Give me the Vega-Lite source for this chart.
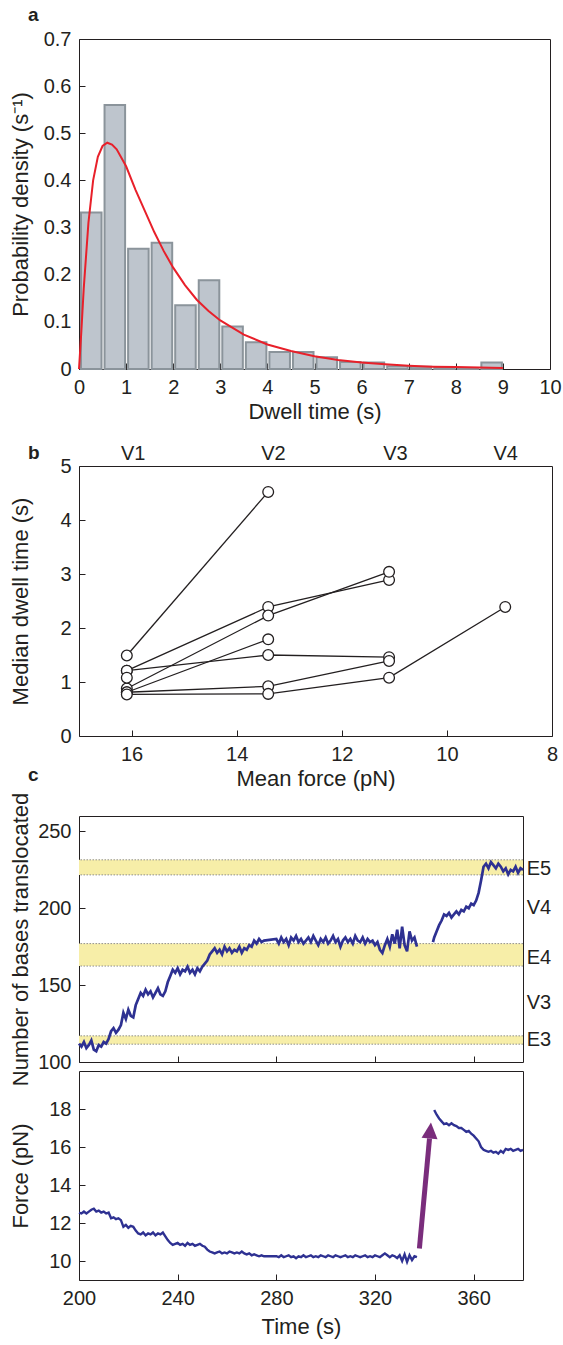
{
"$schema": "https://vega.github.io/schema/vega-lite/v6.json",
"padding": {"left": 8, "top": 5, "right": 2, "bottom": 2},
"config": {
 "font": "Liberation Sans",
 "view": {"stroke": "#231f20", "strokeWidth": 1},
 "axis": {"domain": false, "grid": false, "tickColor": "#231f20", "tickSize": -6, "tickWidth": 1, "labelFontSize": 20, "titleFontSize": 22, "labelColor": "#231f20", "titleColor": "#231f20", "titleFontWeight": "normal", "labelFlush": false, "labelOverlap": false},
 "axisX": {"labelPadding": 14, "titlePadding": 4},
 "axisY": {"labelPadding": 14, "titleX": -59, "titleBaseline": "middle"},
 "title": {"fontSize": 19, "fontWeight": "bold", "anchor": "start", "frame": "group", "color": "#231f20", "baseline": "alphabetic"}
},
"datasets": {
 "hist": [
  {"start":0,"end":0.5,"density":0.332},{"start":0.5,"end":1,"density":0.56},{"start":1,"end":1.5,"density":0.255},{"start":1.5,"end":2,"density":0.268},
  {"start":2,"end":2.5,"density":0.135},{"start":2.5,"end":3,"density":0.188},{"start":3,"end":3.5,"density":0.09},{"start":3.5,"end":4,"density":0.057},
  {"start":4,"end":4.5,"density":0.036},{"start":4.5,"end":5,"density":0.036},{"start":5,"end":5.5,"density":0.025},{"start":5.5,"end":6,"density":0.015},
  {"start":6,"end":6.5,"density":0.014},{"start":6.5,"end":7,"density":0.006},{"start":7,"end":7.5,"density":0.005},{"start":7.5,"end":8,"density":0.003},
  {"start":8,"end":8.5,"density":0.002},{"start":8.5,"end":9,"density":0.014}
 ],
 "fit": [
  {"t":0,"p":0},{"t":0.05,"p":0.08},{"t":0.1,"p":0.17},{"t":0.2,"p":0.31},{"t":0.3,"p":0.40},{"t":0.4,"p":0.45},{"t":0.5,"p":0.473},{"t":0.6,"p":0.48},
  {"t":0.7,"p":0.476},{"t":0.8,"p":0.466},{"t":1.0,"p":0.43},{"t":1.2,"p":0.38},{"t":1.4,"p":0.335},{"t":1.6,"p":0.29},{"t":1.8,"p":0.25},{"t":2.0,"p":0.215},
  {"t":2.25,"p":0.178},{"t":2.5,"p":0.147},{"t":2.75,"p":0.123},{"t":3.0,"p":0.103},{"t":3.5,"p":0.073},{"t":4.0,"p":0.052},{"t":4.5,"p":0.038},{"t":5.0,"p":0.027},
  {"t":5.5,"p":0.019},{"t":6.0,"p":0.014},{"t":6.5,"p":0.01},{"t":7.0,"p":0.007},{"t":7.5,"p":0.005},{"t":8.0,"p":0.004},{"t":8.5,"p":0.003},{"t":9.0,"p":0.002}
 ],
 "median": [
  {"series":"S1","force":16.09,"dwell":1.49},{"series":"S1","force":13.4,"dwell":4.52},
  {"series":"S2","force":16.09,"dwell":1.21},{"series":"S2","force":13.4,"dwell":2.39},{"series":"S2","force":11.1,"dwell":2.89},
  {"series":"S3","force":16.09,"dwell":0.88},{"series":"S3","force":13.4,"dwell":2.23},{"series":"S3","force":11.1,"dwell":3.04},
  {"series":"S4","force":16.09,"dwell":0.81},{"series":"S4","force":13.4,"dwell":1.79},
  {"series":"S5","force":16.09,"dwell":1.21},{"series":"S5","force":13.4,"dwell":1.5},{"series":"S5","force":11.1,"dwell":1.46},
  {"series":"S6","force":16.09,"dwell":0.81},{"series":"S6","force":13.4,"dwell":0.92},{"series":"S6","force":11.1,"dwell":1.39},
  {"series":"S7","force":16.09,"dwell":0.77},{"series":"S7","force":13.4,"dwell":0.78},{"series":"S7","force":11.1,"dwell":1.08},{"series":"S7","force":8.89,"dwell":2.39},
  {"series":"S8","force":16.09,"dwell":1.08}
 ],
 "vlabels": [{"force":15.97,"label":"V1"},{"force":13.3,"label":"V2"},{"force":10.98,"label":"V3"},{"force":8.88,"label":"V4"}],
 "bands": [{"name":"E5","lo":221.7,"hi":231.5},{"name":"E4","lo":162.4,"hi":177},{"name":"E3","lo":111.6,"hi":117}],
 "elabels": [{"label":"E5","y":225.8},{"label":"V4","y":200.4},{"label":"E4","y":167.9},{"label":"V3","y":138.4},{"label":"E3","y":114}],
 "bases": [
  {"t":200,"b":112,"s":1},{"t":201,"b":110,"s":1},{"t":202,"b":113,"s":1},{"t":203,"b":109,"s":1},{"t":204,"b":111,"s":1},{"t":205,"b":114,"s":1},{"t":206,"b":108,"s":1},{"t":207,"b":107,"s":1},{"t":208,"b":111,"s":1},{"t":209,"b":110,"s":1},{"t":210,"b":113,"s":1},{"t":211,"b":112,"s":1},{"t":212,"b":115,"s":1},
  {"t":213,"b":120,"s":1},{"t":214,"b":122,"s":1},{"t":215,"b":119,"s":1},{"t":216,"b":121,"s":1},{"t":217,"b":124,"s":1},
  {"t":218,"b":132,"s":1},{"t":219,"b":128,"s":1},{"t":220,"b":134,"s":1},{"t":221,"b":130,"s":1},{"t":222,"b":129,"s":1},
  {"t":223,"b":137,"s":1},{"t":224,"b":141,"s":1},{"t":225,"b":145,"s":1},{"t":226,"b":143,"s":1},{"t":227,"b":147,"s":1},{"t":228,"b":144,"s":1},{"t":229,"b":146,"s":1},{"t":230,"b":142,"s":1},{"t":231,"b":145,"s":1},{"t":232,"b":148,"s":1},{"t":233,"b":144,"s":1},{"t":234,"b":143,"s":1},{"t":235,"b":146,"s":1},
  {"t":236,"b":152,"s":1},{"t":237,"b":156,"s":1},{"t":238,"b":160,"s":1},{"t":239,"b":158,"s":1},{"t":240,"b":161,"s":1},{"t":241,"b":157,"s":1},{"t":242,"b":160,"s":1},{"t":243,"b":159,"s":1},{"t":244,"b":162,"s":1},{"t":245,"b":158,"s":1},{"t":246,"b":160,"s":1},{"t":247,"b":157,"s":1},{"t":248,"b":161,"s":1},{"t":249,"b":159,"s":1},{"t":250,"b":162,"s":1},{"t":251,"b":164,"s":1},
  {"t":252,"b":166,"s":1},{"t":253,"b":170,"s":1},{"t":254,"b":172,"s":1},{"t":255,"b":174,"s":1},{"t":256,"b":171,"s":1},{"t":257,"b":173,"s":1},{"t":258,"b":170,"s":1},{"t":259,"b":175,"s":1},{"t":260,"b":172,"s":1},{"t":261,"b":174,"s":1},{"t":262,"b":171,"s":1},{"t":263,"b":173,"s":1},{"t":264,"b":172,"s":1},{"t":265,"b":175,"s":1},{"t":266,"b":171,"s":1},{"t":267,"b":174,"s":1},{"t":268,"b":173,"s":1},{"t":269,"b":176,"s":1},{"t":270,"b":175,"s":1},{"t":271,"b":179,"s":1},{"t":272,"b":177,"s":1},{"t":273,"b":180,"s":1},{"t":274,"b":178,"s":1},{"t":275,"b":179,"s":1},
  {"t":280,"b":180,"s":1},{"t":281,"b":177,"s":1},{"t":282,"b":181,"s":1},{"t":283,"b":178,"s":1},{"t":284,"b":180,"s":1},{"t":285,"b":176,"s":1},{"t":286,"b":181,"s":1},{"t":287,"b":179,"s":1},{"t":288,"b":182,"s":1},{"t":289,"b":178,"s":1},{"t":290,"b":180,"s":1},{"t":291,"b":177,"s":1},{"t":292,"b":179,"s":1},{"t":293,"b":181,"s":1},{"t":294,"b":178,"s":1},{"t":295,"b":182,"s":1},{"t":296,"b":179,"s":1},{"t":297,"b":176,"s":1},{"t":298,"b":180,"s":1},{"t":299,"b":178,"s":1},{"t":300,"b":181,"s":1},{"t":301,"b":177,"s":1},{"t":302,"b":179,"s":1},{"t":303,"b":182,"s":1},{"t":304,"b":178,"s":1},{"t":305,"b":180,"s":1},{"t":306,"b":175,"s":1},{"t":307,"b":179,"s":1},{"t":308,"b":181,"s":1},{"t":309,"b":178,"s":1},{"t":310,"b":180,"s":1},{"t":311,"b":177,"s":1},{"t":312,"b":182,"s":1},{"t":313,"b":179,"s":1},{"t":314,"b":178,"s":1},{"t":315,"b":181,"s":1},{"t":316,"b":177,"s":1},{"t":317,"b":180,"s":1},{"t":318,"b":178,"s":1},{"t":319,"b":179,"s":1},{"t":320,"b":176,"s":1},{"t":321,"b":178,"s":1},{"t":322,"b":173,"s":1},{"t":323,"b":171,"s":1},{"t":324,"b":176,"s":1},{"t":325,"b":180,"s":1},{"t":326,"b":175,"s":1},{"t":327,"b":183,"s":1},{"t":328,"b":177,"s":1},{"t":329,"b":186,"s":1},{"t":330,"b":174,"s":1},{"t":331,"b":188,"s":1},{"t":332,"b":176,"s":1},{"t":333,"b":172,"s":1},{"t":334,"b":185,"s":1},{"t":335,"b":179,"s":1},{"t":336,"b":181,"s":1},{"t":337,"b":175,"s":1},
  {"t":343.5,"b":178,"s":2},{"t":344,"b":181,"s":2},{"t":345,"b":185,"s":2},{"t":346,"b":189,"s":2},{"t":347,"b":192,"s":2},{"t":348,"b":196,"s":2},{"t":349,"b":195,"s":2},{"t":350,"b":197,"s":2},{"t":351,"b":194,"s":2},{"t":352,"b":196,"s":2},{"t":353,"b":198,"s":2},{"t":354,"b":196,"s":2},{"t":355,"b":199,"s":2},{"t":356,"b":198,"s":2},{"t":357,"b":201,"s":2},{"t":358,"b":200,"s":2},{"t":359,"b":203,"s":2},{"t":360,"b":202,"s":2},{"t":361,"b":205,"s":2},{"t":362,"b":210,"s":2},{"t":363,"b":218,"s":2},{"t":364,"b":227,"s":2},{"t":365,"b":229,"s":2},{"t":366,"b":226,"s":2},{"t":367,"b":230,"s":2},{"t":368,"b":228,"s":2},{"t":369,"b":226,"s":2},{"t":370,"b":229,"s":2},{"t":371,"b":227,"s":2},{"t":372,"b":224,"s":2},{"t":373,"b":226,"s":2},{"t":374,"b":222,"s":2},{"t":375,"b":225,"s":2},{"t":376,"b":224,"s":2},{"t":377,"b":227,"s":2},{"t":378,"b":223,"s":2},{"t":379,"b":226,"s":2},{"t":380,"b":225,"s":2}
 ],
 "force": [
  {"t":200,"f":12.55,"s":1},{"t":201,"f":12.5,"s":1},{"t":202,"f":12.6,"s":1},{"t":203,"f":12.5,"s":1},{"t":204,"f":12.6,"s":1},{"t":205,"f":12.7,"s":1},{"t":206,"f":12.75,"s":1},{"t":207,"f":12.6,"s":1},{"t":208,"f":12.65,"s":1},{"t":209,"f":12.55,"s":1},{"t":210,"f":12.6,"s":1},{"t":211,"f":12.5,"s":1},{"t":212,"f":12.55,"s":1},
  {"t":213,"f":12.25,"s":1},{"t":214,"f":12.3,"s":1},{"t":215,"f":12.2,"s":1},{"t":216,"f":12.25,"s":1},{"t":217,"f":12.15,"s":1},
  {"t":218,"f":11.8,"s":1},{"t":219,"f":11.9,"s":1},{"t":220,"f":11.75,"s":1},{"t":221,"f":11.85,"s":1},{"t":222,"f":11.8,"s":1},{"t":223,"f":11.6,"s":1},
  {"t":224,"f":11.45,"s":1},{"t":225,"f":11.4,"s":1},{"t":226,"f":11.5,"s":1},{"t":227,"f":11.35,"s":1},{"t":228,"f":11.45,"s":1},{"t":229,"f":11.4,"s":1},{"t":230,"f":11.5,"s":1},{"t":231,"f":11.35,"s":1},{"t":232,"f":11.45,"s":1},{"t":233,"f":11.4,"s":1},{"t":234,"f":11.5,"s":1},{"t":235,"f":11.3,"s":1},
  {"t":236,"f":11.1,"s":1},{"t":237,"f":10.95,"s":1},{"t":238,"f":10.85,"s":1},{"t":239,"f":10.9,"s":1},{"t":240,"f":10.95,"s":1},{"t":241,"f":10.85,"s":1},{"t":242,"f":10.9,"s":1},{"t":243,"f":10.8,"s":1},{"t":244,"f":10.95,"s":1},{"t":245,"f":10.85,"s":1},{"t":246,"f":10.9,"s":1},{"t":247,"f":10.8,"s":1},{"t":248,"f":10.85,"s":1},{"t":249,"f":10.9,"s":1},{"t":250,"f":10.8,"s":1},{"t":251,"f":10.75,"s":1},
  {"t":252,"f":10.6,"s":1},{"t":253,"f":10.5,"s":1},{"t":254,"f":10.45,"s":1},{"t":255,"f":10.4,"s":1},{"t":256,"f":10.45,"s":1},{"t":257,"f":10.5,"s":1},{"t":258,"f":10.4,"s":1},{"t":259,"f":10.45,"s":1},{"t":260,"f":10.4,"s":1},{"t":261,"f":10.5,"s":1},{"t":262,"f":10.45,"s":1},{"t":263,"f":10.4,"s":1},{"t":264,"f":10.45,"s":1},{"t":265,"f":10.4,"s":1},{"t":266,"f":10.5,"s":1},{"t":267,"f":10.4,"s":1},{"t":268,"f":10.35,"s":1},{"t":269,"f":10.4,"s":1},{"t":270,"f":10.3,"s":1},{"t":271,"f":10.35,"s":1},{"t":272,"f":10.3,"s":1},{"t":273,"f":10.25,"s":1},{"t":274,"f":10.3,"s":1},{"t":275,"f":10.25,"s":1},
  {"t":280,"f":10.25,"s":1},{"t":281,"f":10.2,"s":1},{"t":282,"f":10.3,"s":1},{"t":283,"f":10.2,"s":1},{"t":284,"f":10.25,"s":1},{"t":285,"f":10.3,"s":1},{"t":286,"f":10.2,"s":1},{"t":287,"f":10.25,"s":1},{"t":288,"f":10.15,"s":1},{"t":289,"f":10.25,"s":1},{"t":290,"f":10.2,"s":1},{"t":291,"f":10.3,"s":1},{"t":292,"f":10.2,"s":1},{"t":293,"f":10.25,"s":1},{"t":294,"f":10.3,"s":1},{"t":295,"f":10.2,"s":1},{"t":296,"f":10.25,"s":1},{"t":297,"f":10.2,"s":1},{"t":298,"f":10.3,"s":1},{"t":299,"f":10.25,"s":1},{"t":300,"f":10.2,"s":1},{"t":301,"f":10.3,"s":1},{"t":302,"f":10.25,"s":1},{"t":303,"f":10.2,"s":1},{"t":304,"f":10.3,"s":1},{"t":305,"f":10.25,"s":1},{"t":306,"f":10.2,"s":1},{"t":307,"f":10.25,"s":1},{"t":308,"f":10.3,"s":1},{"t":309,"f":10.2,"s":1},{"t":310,"f":10.25,"s":1},{"t":311,"f":10.2,"s":1},{"t":312,"f":10.3,"s":1},{"t":313,"f":10.25,"s":1},{"t":314,"f":10.2,"s":1},{"t":315,"f":10.25,"s":1},{"t":316,"f":10.3,"s":1},{"t":317,"f":10.2,"s":1},{"t":318,"f":10.25,"s":1},{"t":319,"f":10.2,"s":1},{"t":320,"f":10.3,"s":1},{"t":321,"f":10.25,"s":1},{"t":322,"f":10.2,"s":1},{"t":323,"f":10.3,"s":1},{"t":324,"f":10.4,"s":1},{"t":325,"f":10.3,"s":1},{"t":326,"f":10.2,"s":1},{"t":327,"f":10.3,"s":1},{"t":328,"f":10.25,"s":1},{"t":329,"f":10.15,"s":1},{"t":330,"f":10.3,"s":1},{"t":331,"f":10.0,"s":1},{"t":332,"f":10.35,"s":1},{"t":333,"f":9.95,"s":1},{"t":334,"f":10.3,"s":1},{"t":335,"f":10.05,"s":1},{"t":336,"f":10.25,"s":1},{"t":337,"f":10.2,"s":1},
  {"t":344,"f":17.95,"s":2},{"t":345,"f":17.7,"s":2},{"t":346,"f":17.5,"s":2},{"t":347,"f":17.35,"s":2},{"t":348,"f":17.2,"s":2},{"t":349,"f":17.25,"s":2},{"t":350,"f":17.15,"s":2},{"t":351,"f":17.25,"s":2},{"t":352,"f":17.15,"s":2},{"t":353,"f":17.1,"s":2},{"t":354,"f":17.0,"s":2},{"t":355,"f":17.0,"s":2},{"t":356,"f":16.9,"s":2},{"t":357,"f":16.8,"s":2},{"t":358,"f":16.85,"s":2},{"t":359,"f":16.7,"s":2},{"t":360,"f":16.6,"s":2},{"t":361,"f":16.45,"s":2},{"t":362,"f":16.3,"s":2},{"t":363,"f":16.0,"s":2},{"t":364,"f":15.85,"s":2},{"t":365,"f":15.8,"s":2},{"t":366,"f":15.75,"s":2},{"t":367,"f":15.8,"s":2},{"t":368,"f":15.7,"s":2},{"t":369,"f":15.75,"s":2},{"t":370,"f":15.65,"s":2},{"t":371,"f":15.8,"s":2},{"t":372,"f":15.7,"s":2},{"t":373,"f":15.9,"s":2},{"t":374,"f":15.85,"s":2},{"t":375,"f":15.9,"s":2},{"t":376,"f":15.8,"s":2},{"t":377,"f":15.85,"s":2},{"t":378,"f":15.9,"s":2},{"t":379,"f":15.8,"s":2},{"t":380,"f":15.85,"s":2}
 ],
 "arrow": [{"t0":338.0,"f0":10.66,"t1":342.1,"f1":16.45}],
 "arrowhead": [{"t":342.4,"f":16.87}]
},
"spacing": 9,
"bounds": "flush",
"vconcat": [
 {
  "width": 471, "height": 330,
  "title": {"text": "a", "dx": -51, "offset": 4},
  "layer": [
   {"data": {"name": "hist"},
    "mark": {"type": "bar", "fill": "#bec5cd", "stroke": "#8b949b", "strokeWidth": 2, "binSpacing": 3},
    "encoding": {
     "x": {"field": "start", "type": "quantitative", "bin": {"binned": true, "step": 0.5}, "scale": {"domain": [0, 10]}, "axis": {"values": [0,1,2,3,4,5,6,7,8,9,10], "format": "~g", "title": "Dwell time (s)"}},
     "x2": {"field": "end"},
     "y": {"field": "density", "type": "quantitative", "scale": {"domain": [0, 0.7]}, "axis": {"values": [0,0.1,0.2,0.3,0.4,0.5,0.6,0.7], "format": "~g", "title": "Probability density (s⁻¹)"}}
    }},
   {"data": {"name": "fit"},
    "mark": {"type": "line", "color": "#e8202a", "strokeWidth": 2},
    "encoding": {"x": {"field": "t", "type": "quantitative"}, "y": {"field": "p", "type": "quantitative"}}}
  ]
 },
 {"width": 10, "height": 79, "view": {"stroke": null}, "data": {"values": [{"v": 0}]}, "mark": {"type": "point", "opacity": 0}, "encoding": {}},
 {
  "width": 473, "height": 270,
  "title": {"text": "b", "dx": -51, "offset": -19},
  "layer": [
   {"data": {"name": "median"},
    "mark": {"type": "line", "color": "#231f20", "strokeWidth": 1.3},
    "encoding": {
     "x": {"field": "force", "type": "quantitative", "scale": {"domain": [8, 17], "reverse": true}, "axis": {"values": [16,14,12,10,8], "title": "Mean force (pN)"}},
     "y": {"field": "dwell", "type": "quantitative", "scale": {"domain": [0, 5]}, "axis": {"values": [0,1,2,3,4,5], "title": "Median dwell time (s)"}},
     "detail": {"field": "series"}
    }},
   {"data": {"name": "median"},
    "mark": {"type": "point", "filled": true, "fill": "white", "stroke": "#231f20", "strokeWidth": 1.3, "size": 115, "opacity": 1},
    "encoding": {"x": {"field": "force", "type": "quantitative"}, "y": {"field": "dwell", "type": "quantitative"}}},
   {"data": {"name": "vlabels"},
    "mark": {"type": "text", "fontSize": 20, "baseline": "middle", "color": "#231f20"},
    "encoding": {"x": {"field": "force", "type": "quantitative"}, "y": {"datum": 5.22}, "text": {"field": "label"}}}
  ]
 },
 {"width": 10, "height": 62, "view": {"stroke": null}, "data": {"values": [{"v": 0}]}, "mark": {"type": "point", "opacity": 0}, "encoding": {}},
 {
  "width": 444, "height": 246,
  "title": {"text": "c", "dx": -51, "offset": 7},
  "layer": [
   {"data": {"name": "bands"},
    "mark": {"type": "rect", "color": "#f7eea8"},
    "encoding": {"y": {"field": "lo", "type": "quantitative", "scale": {"domain": [100, 250]}, "axis": {"values": [100,150,200,250], "title": "Number of bases translocated"}}, "y2": {"field": "hi"}}},
   {"data": {"name": "bands"},
    "mark": {"type": "rule", "color": "#8f8f8f", "strokeDash": [1.5, 1.5], "strokeWidth": 1},
    "encoding": {"y": {"field": "lo", "type": "quantitative"}}},
   {"data": {"name": "bands"},
    "mark": {"type": "rule", "color": "#8f8f8f", "strokeDash": [1.5, 1.5], "strokeWidth": 1},
    "encoding": {"y": {"field": "hi", "type": "quantitative"}}},
   {"data": {"name": "bases"},
    "mark": {"type": "line", "color": "#2e3192", "strokeWidth": 2.7},
    "encoding": {
     "x": {"field": "t", "type": "quantitative", "scale": {"domain": [200, 380]}, "axis": {"values": [200,240,280,320,360], "labels": false, "title": null}},
     "y": {"field": "b", "type": "quantitative"},
     "detail": {"field": "s"}
    }},
   {"data": {"name": "elabels"},
    "mark": {"type": "text", "align": "left", "baseline": "middle", "fontSize": 20, "color": "#231f20"},
    "encoding": {"x": {"datum": 381.5}, "y": {"field": "y", "type": "quantitative"}, "text": {"field": "label"}}}
  ]
 },
 {
  "width": 444, "height": 209,
  "layer": [
   {"data": {"name": "force"},
    "mark": {"type": "line", "color": "#2e3192", "strokeWidth": 2.4},
    "encoding": {
     "x": {"field": "t", "type": "quantitative", "scale": {"domain": [200, 380]}, "axis": {"values": [200,240,280,320,360], "title": "Time (s)", "titlePadding": 8}},
     "y": {"field": "f", "type": "quantitative", "scale": {"domain": [9, 20]}, "axis": {"values": [10,12,14,16,18], "title": "Force (pN)"}},
     "detail": {"field": "s"}
    }},
   {"data": {"name": "arrow"},
    "mark": {"type": "rule", "color": "#7a2d7c", "strokeWidth": 5},
    "encoding": {"x": {"field": "t0", "type": "quantitative"}, "y": {"field": "f0", "type": "quantitative"}, "x2": {"field": "t1"}, "y2": {"field": "f1"}}},
   {"data": {"name": "arrowhead"},
    "mark": {"type": "point", "shape": "M-1,1L0,-1L1,1Z", "filled": true, "color": "#7a2d7c", "size": 256, "angle": 5, "opacity": 1},
    "encoding": {"x": {"field": "t", "type": "quantitative"}, "y": {"field": "f", "type": "quantitative"}}}
  ]
 }
]
}
